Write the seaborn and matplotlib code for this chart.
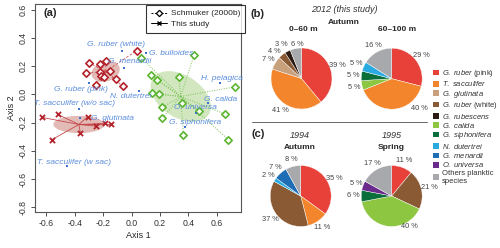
import numpy as np
import matplotlib
matplotlib.use('Agg')
import matplotlib.pyplot as plt
from matplotlib.patches import Ellipse, Patch
from matplotlib.lines import Line2D
import seaborn as sns

sns.set_style('ticks')
plt.rcParams['font.family'] = ['Liberation Sans', 'DejaVu Sans']
plt.rcParams['mathtext.fontset'] = 'custom'
plt.rcParams['mathtext.it'] = 'Liberation Sans:italic'
plt.rcParams['mathtext.rm'] = 'Liberation Sans'
plt.rcParams['axes.unicode_minus'] = False

W, H = 500, 248

# ---------------------------------------------------------------- data (a)
species_names = ['G. ruber (white)', 'G. bulloides', 'G. menardii', 'G. ruber (pink)',
                 'N. dutertrei', 'H. pelagica', 'G. calida', 'O. universa',
                 'T. sacculifer (w/o sac)', 'G. glutinata', 'G. siphonifera',
                 'T. sacculifer (w sac)']
species_x = [-0.07, 0.10, -0.054, -0.30, 0.05, 0.62, 0.54, 0.45, -0.372, -0.365, 0.376, -0.455]
species_y = [0.31, 0.29, 0.19, 0.078, 0.023, 0.078, -0.06, -0.13, -0.10, -0.168, -0.234, -0.508]

schmuker_red_x = [-0.30, -0.22, -0.18, -0.32, -0.22, -0.153, -0.215, -0.195, -0.254, -0.11, -0.064, 0.035]
schmuker_red_y = [0.224, 0.215, 0.236, 0.15, 0.16, 0.167, 0.13, 0.12, 0.066, 0.108, 0.059, 0.31]

schmuker_green_x = [0.066, 0.44, 0.136, 0.18, 0.334, 0.73, 0.145, 0.19, 0.353, 0.216,
                    0.475, 0.66, 0.216, 0.365, 0.68]
schmuker_green_y = [0.26, 0.28, 0.137, 0.10, 0.125, 0.054, 0.007, 0.002, -0.06, -0.092,
                    -0.118, -0.14, -0.17, -0.29, -0.32]

study_x = [-0.63, -0.52, -0.31, -0.25, -0.19, -0.148, -0.36, -0.56]
study_y = [-0.163, -0.142, -0.159, -0.225, -0.206, -0.213, -0.277, -0.32]

# ---------------------------------------------------------------- data (b), (c)
taxa = ['ruber_pink', 'sacculifer', 'glutinata', 'ruber_white', 'rubescens', 'calida',
        'siphonifera', 'dutertrei', 'menardii', 'universa', 'others']
taxa_labels = [r'$\it{G.\ ruber}$ (pink)', r'$\it{T.\ sacculifer}$', r'$\it{G.\ glutinata}$',
               r'$\it{G.\ ruber}$ (white)', r'$\it{G.\ rubescens}$', r'$\it{G.\ calida}$',
               r'$\it{G.\ siphonifera}$', r'$\it{N.\ dutertrei}$', r'$\it{G.\ menardii}$',
               r'$\it{O.\ universa}$', 'Others planktic\nspecies']
taxa_colors = ['#e8413a', '#f3862c', '#c9a07c', '#8a5a34', '#2b1b12', '#8dc641',
               '#0a6f3a', '#29abe2', '#1f6db5', '#6a2b8c', '#a7a9ac']

pie_b1_taxa = ['ruber_pink', 'sacculifer', 'glutinata', 'ruber_white', 'rubescens', 'others']
pie_b1_values = [39, 41, 7, 4, 3, 6]
pie_b2_taxa = ['ruber_pink', 'sacculifer', 'calida', 'siphonifera', 'dutertrei', 'others']
pie_b2_values = [29, 40, 5, 5, 5, 16]
pie_c1_taxa = ['ruber_pink', 'sacculifer', 'ruber_white', 'dutertrei', 'menardii', 'others']
pie_c1_values = [35, 11, 37, 2, 7, 8]
pie_c2_taxa = ['ruber_pink', 'ruber_white', 'calida', 'siphonifera', 'universa', 'others']
pie_c2_values = [11, 21, 40, 6, 5, 17]

RED = '#b3232b'
GREEN = '#5cb531'
BLUE_PT = '#3f72cf'
BLUE_TXT = '#5b8ddb'


def px_text(fig, x, y, s, **kw):
    fig.text(x / W, 1 - y / H, s, ha='center', va='center', **kw)


def sd_ellipse(ax, x, y, color, alpha):
    cov = np.cov(x, y)
    vals, vecs = np.linalg.eigh(cov)
    angle = np.degrees(np.arctan2(vecs[1, 1], vecs[0, 1]))
    ax.add_patch(Ellipse((np.mean(x), np.mean(y)), 2 * np.sqrt(vals[1]), 2 * np.sqrt(vals[0]),
                         angle=angle, facecolor=color, edgecolor='none', alpha=alpha, zorder=1))


def spider(ax, x, y, color, ls, lw):
    cx, cy = np.mean(x), np.mean(y)
    for xi, yi in zip(x, y):
        ax.plot([cx, xi], [cy, yi], color=color, ls=ls, lw=lw, zorder=2)


fig = plt.figure(figsize=(W / 100, H / 100), dpi=100)

# ---------------------------------------------------------------- panel (a)
ax = fig.add_axes([35 / W, 1 - 212.3 / H, (241 - 35) / W, (212.3 - 4) / H])

sd_ellipse(ax, schmuker_red_x, schmuker_red_y, '#c8786e', 0.5)
sd_ellipse(ax, schmuker_green_x, schmuker_green_y, '#b5d896', 0.6)
sd_ellipse(ax, study_x, study_y, '#c8786e', 0.5)

spider(ax, schmuker_red_x, schmuker_red_y, '#cf5a5a', (0, (3, 2)), 0.6)
spider(ax, schmuker_green_x, schmuker_green_y, '#7cc456', (0, (1, 1.5)), 0.7)
spider(ax, study_x, study_y, '#c4474b', '-', 0.6)

sns.scatterplot(x=schmuker_red_x, y=schmuker_red_y, marker='D', s=14, color='white',
                edgecolor=RED, linewidth=1.2, ax=ax, zorder=4)
sns.scatterplot(x=schmuker_green_x, y=schmuker_green_y, marker='D', s=14, color='white',
                edgecolor=GREEN, linewidth=1.2, ax=ax, zorder=4)
sns.scatterplot(x=study_x, y=study_y, marker='x', s=14, color=RED, linewidth=1.3, ax=ax, zorder=4)
sns.scatterplot(x=species_x, y=species_y, marker='s', s=4, color=BLUE_PT, linewidth=0, ax=ax, zorder=5)

label_offsets = {
    'G. ruber (white)': (-4.3, 4.6, 'center'),
    'G. bulloides': (2, 0, 'left'),
    'G. menardii': (4.3, 4, 'center'),
    'G. ruber (pink)': (-6.1, -4.3, 'center'),
    'N. dutertrei': (-5.7, -4.1, 'center'),
    'H. pelagica': (1.7, 3.6, 'center'),
    'G. calida': (9, 2.7, 'center'),
    'O. universa': (0, 3.5, 'center'),
    'T. sacculifer (w/o sac)': (-2.9, 3.6, 'center'),
    'G. glutinata': (8.4, 0, 'left'),
    'G. siphonifera': (7, 3.3, 'center'),
    'T. sacculifer (w sac)': (5, 2.7, 'center'),
}
for name, xv, yv in zip(species_names, species_x, species_y):
    dx, dy, ha = label_offsets[name]
    ax.annotate(name, (xv, yv), xytext=(dx, dy), textcoords='offset points', ha=ha,
                va='center', fontsize=6, style='italic', color=BLUE_TXT, zorder=6)

ax.set_xlim(-0.68, 0.77)
ax.set_ylim(-0.835, 0.64)
ax.set_xticks(np.round(np.arange(-0.6, 0.61, 0.2), 1))
ax.set_yticks(np.round(np.arange(-0.8, 0.61, 0.2), 1))
ax.tick_params(direction='out', length=3, width=0.6, labelsize=6.3, colors='#333', pad=2)
for lab in ax.get_yticklabels():
    lab.set_rotation(90)
    lab.set_va('center')
for sp in ax.spines.values():
    sp.set_color('#555')
    sp.set_linewidth(0.8)
ax.set_xlabel('Axis 1', fontsize=6.5, labelpad=2)
ax.set_ylabel('Axis 2', fontsize=6.5, labelpad=2)
ax.text(0.04, 0.955, '(a)', transform=ax.transAxes, fontsize=8, fontweight='bold', va='center')

handles = [Line2D([], [], color='black', ls=(0, (2, 1.5)), lw=0.7, marker='D', ms=3.2,
                  mfc='white', mec='black', mew=0.9),
           Line2D([], [], color='black', ls='-', lw=0.7, marker='x', ms=3.5, mew=1)]
leg = ax.legend(handles, ['Schmuker (2000b)', 'This study'], loc='upper right',
                bbox_to_anchor=(245 / W, 1 - 5 / H), bbox_transform=fig.transFigure,
                fontsize=6, frameon=True, fancybox=False, borderaxespad=0, handlelength=1.9,
                handletextpad=0.5, labelspacing=0.35, borderpad=0.55)
leg.get_frame().set_edgecolor('black')
leg.get_frame().set_linewidth(0.8)

# ---------------------------------------------------------------- pies (b), (c)
color_of = dict(zip(taxa, taxa_colors))
R = 30.5


def draw_pie(cx, cy, values, names):
    pax = fig.add_axes([(cx - R) / W, 1 - (cy + R) / H, 2 * R / W, 2 * R / H])
    wedges, texts, pcts = pax.pie(values, colors=[color_of[n] for n in names], startangle=90,
                                  counterclock=False, autopct=lambda p: f'{p:.0f} %',
                                  pctdistance=1.25,
                                  wedgeprops=dict(edgecolor='white', linewidth=0.3),
                                  textprops=dict(fontsize=5.3, color='#444'))
    pax.set_xlim(-1, 1)
    pax.set_ylim(-1, 1)
    pax.set_aspect('equal')
    return pcts


p = draw_pie(301.5, 78.5, pie_b1_values, pie_b1_taxa)
p[3].set_position((-0.9, 0.9))
p[4].set_position((-0.66, 1.11))
p[5].set_position((-0.14, 1.11))
p = draw_pie(391.7, 78.7, pie_b2_values, pie_b2_taxa)
p[1].set_position((0.91, -0.99))
draw_pie(300.7, 196, pie_c1_values, pie_c1_taxa)
p = draw_pie(391.7, 196, pie_c2_values, pie_c2_taxa)
p[2].set_position((0.58, -1.0))

px_text(fig, 257.5, 14, '(b)', fontsize=8, fontweight='bold')
px_text(fig, 344, 10, '2012 (this study)', fontsize=6.5, style='italic', color='#333')
px_text(fig, 344, 22.7, 'Autumn', fontsize=6, fontweight='bold')
px_text(fig, 303.3, 29.3, '0–60 m', fontsize=6, fontweight='bold')
px_text(fig, 396.7, 29.3, '60–100 m', fontsize=6, fontweight='bold')

px_text(fig, 257.7, 134, '(c)', fontsize=8, fontweight='bold')
px_text(fig, 300, 135, '1994', fontsize=6.5, style='italic', color='#333')
px_text(fig, 300, 147.3, 'Autumn', fontsize=6, fontweight='bold')
px_text(fig, 392, 135, '1995', fontsize=6.5, style='italic', color='#333')
px_text(fig, 391.7, 147.3, 'Spring', fontsize=6, fontweight='bold')

fig.add_artist(Line2D([252 / W, 427 / W], [1 - 122.5 / H] * 2, color='#666', lw=0.7))

patches = [Patch(facecolor=c, edgecolor='none') for c in taxa_colors]
fig.legend(patches, taxa_labels, loc='upper left', bbox_to_anchor=(433 / W, 1 - 68 / H),
           frameon=False, fontsize=5.5, handlelength=0.75, handleheight=0.75,
           handletextpad=0.4, labelspacing=0.05, borderpad=0, borderaxespad=0,
           labelcolor='#333')

fig.savefig('out.png', dpi=100)
